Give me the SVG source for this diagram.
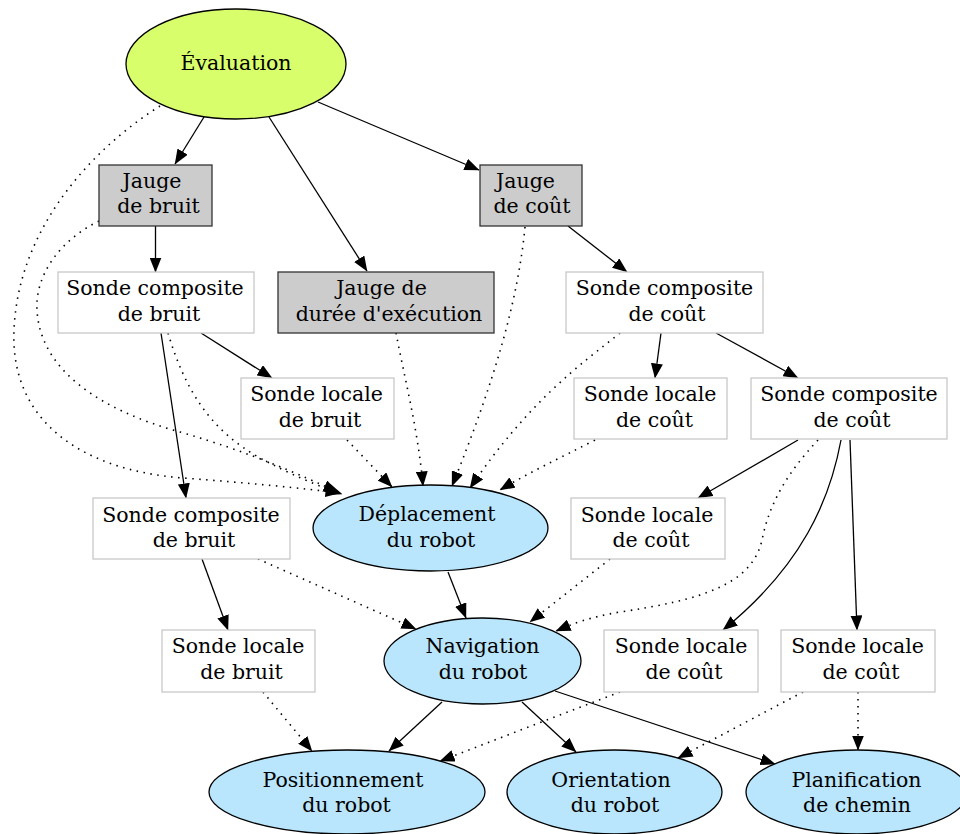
<svg xmlns="http://www.w3.org/2000/svg" width="960" height="834" viewBox="0 0 960 834">
  <style>
    text { font-family: "DejaVu Serif", "Liberation Serif", serif; font-size: 20.5px; fill: #000; text-anchor: middle; }
    .ell { stroke: #000; stroke-width: 1.3; }
    .root { fill: #d8fe6c; }
    .comp { fill: #b9e6fd; }
    .gauge { fill: #cccccc; stroke: #333; stroke-width: 1.3; }
    .probe { fill: #fff; stroke: #c8c8c8; stroke-width: 1.3; }
    .edge { fill: none; stroke: #000; stroke-width: 1.3; marker-end: url(#arrow); }
    .obs { fill: none; stroke: #000; stroke-width: 1.6; stroke-dasharray: 1.5 5.5; marker-end: url(#arrow); }
  </style>
  <defs>
    <marker id="arrow" markerUnits="userSpaceOnUse" markerWidth="15" markerHeight="12" refX="14.5" refY="6" orient="auto">
      <path d="M0,0 L15,6 L0,12 z" fill="#000"/>
    </marker>
  </defs>
  <rect width="960" height="834" fill="#fff"/>

  <g id="connectors">
    <!-- hierarchy (solid) -->
    <path class="edge" d="M204,117 L175,164"/>
    <path class="edge" d="M269,117 L367,271"/>
    <path class="edge" d="M318,102 L479,170"/>
    <path class="edge" d="M155.5,226 L155.5,272"/>
    <path class="edge" d="M568,226 L627,272"/>
    <path class="edge" d="M201,333 L272,378"/>
    <path class="edge" d="M161,333 L186,498"/>
    <path class="edge" d="M661,333 L655,378"/>
    <path class="edge" d="M716,333 L798,378"/>
    <path class="edge" d="M798,440 L698,498"/>
    <path class="edge" d="M841,440 C830,500 802,566 723,630"/>
    <path class="edge" d="M850,440 L857,630"/>
    <path class="edge" d="M448,572 L466,618"/>
    <path class="edge" d="M202,559 L228,630"/>
    <path class="edge" d="M442,702 L389,751"/>
    <path class="edge" d="M522,702 L576,752"/>
    <path class="edge" d="M555,691 L775,764"/>

    <!-- observations (dotted) -->
    <path class="obs" d="M160,106 C90,150 18,230 14,330 C10,420 80,470 183,478 C250,483 300,488 340,493"/>
    <path class="obs" d="M99,221 C60,240 35,275 37,310 C40,370 100,410 180,432 C250,452 300,475 338,492"/>
    <path class="obs" d="M168,333 C185,390 210,430 260,458 C290,474 315,485 342,494"/>
    <path class="obs" d="M347,440 L392,487"/>
    <path class="obs" d="M396,333 C405,380 418,430 423,486"/>
    <path class="obs" d="M525,227 C518,300 495,380 452,486"/>
    <path class="obs" d="M620,333 C580,365 530,400 470,488"/>
    <path class="obs" d="M595,440 C560,458 530,472 500,490"/>
    <path class="obs" d="M258,559 L416,629"/>
    <path class="obs" d="M610,559 L530,622"/>
    <path class="obs" d="M818,440 C790,470 770,500 762,540 C752,585 700,600 620,612 C590,617 572,624 556,631"/>
    <path class="obs" d="M263,692 L312,751"/>
    <path class="obs" d="M620,692 L440,761"/>
    <path class="obs" d="M803,692 L678,758"/>
    <path class="obs" d="M858,692 L858,750"/>
  </g>

  <g id="evaluation">
    <ellipse class="ell root" cx="236" cy="64" rx="110" ry="55"/>
    <text x="236" y="70">Évaluation</text>
  </g>
  <g id="jauge-bruit">
    <rect class="gauge" x="99" y="165" width="113" height="61"/>
    <text x="152" y="188">Jauge</text>
    <text x="158.5" y="213">de bruit</text>
  </g>
  <g id="jauge-duree">
    <rect class="gauge" x="278" y="272" width="216" height="61"/>
    <text x="381.5" y="295">Jauge de</text>
    <text x="389" y="321">durée d'exécution</text>
  </g>
  <g id="jauge-cout">
    <rect class="gauge" x="480" y="165" width="102" height="61"/>
    <text x="525.5" y="188">Jauge</text>
    <text x="532" y="213">de coût</text>
  </g>
  <g id="sonde-composite-bruit-1">
    <rect class="probe" x="58" y="272" width="196" height="61"/>
    <text x="155" y="295">Sonde composite</text>
    <text x="159" y="321">de bruit</text>
  </g>
  <g id="sonde-locale-bruit-1">
    <rect class="probe" x="241" y="378" width="153" height="61"/>
    <text x="316.5" y="401">Sonde locale</text>
    <text x="320" y="427">de bruit</text>
  </g>
  <g id="sonde-composite-cout-1">
    <rect class="probe" x="566" y="272" width="197" height="61"/>
    <text x="664.5" y="295">Sonde composite</text>
    <text x="667" y="321">de coût</text>
  </g>
  <g id="sonde-locale-cout-1">
    <rect class="probe" x="574" y="378" width="153" height="61"/>
    <text x="650" y="401">Sonde locale</text>
    <text x="654.5" y="427">de coût</text>
  </g>
  <g id="sonde-composite-cout-2">
    <rect class="probe" x="751" y="378" width="196" height="61"/>
    <text x="849" y="401">Sonde composite</text>
    <text x="852" y="427">de coût</text>
  </g>
  <g id="deplacement">
    <ellipse class="ell comp" cx="430.5" cy="528" rx="117.5" ry="43"/>
    <text x="427" y="520.5">Déplacement</text>
    <text x="431" y="547">du robot</text>
  </g>
  <g id="sonde-composite-bruit-2">
    <rect class="probe" x="93" y="498" width="197" height="61"/>
    <text x="191" y="522">Sonde composite</text>
    <text x="194" y="547">de bruit</text>
  </g>
  <g id="sonde-locale-cout-2">
    <rect class="probe" x="571" y="498" width="154" height="61"/>
    <text x="647" y="522">Sonde locale</text>
    <text x="651" y="547">de coût</text>
  </g>
  <g id="navigation">
    <ellipse class="ell comp" cx="482.5" cy="661" rx="98.5" ry="43"/>
    <text x="482.5" y="653">Navigation</text>
    <text x="483" y="679">du robot</text>
  </g>
  <g id="sonde-locale-bruit-2">
    <rect class="probe" x="162" y="630" width="153" height="62"/>
    <text x="238" y="653">Sonde locale</text>
    <text x="241.5" y="679">de bruit</text>
  </g>
  <g id="sonde-locale-cout-3">
    <rect class="probe" x="604" y="630" width="154" height="62"/>
    <text x="681" y="653">Sonde locale</text>
    <text x="684" y="679">de coût</text>
  </g>
  <g id="sonde-locale-cout-4">
    <rect class="probe" x="781" y="630" width="154" height="62"/>
    <text x="857.5" y="653">Sonde locale</text>
    <text x="861" y="679">de coût</text>
  </g>
  <g id="positionnement">
    <ellipse class="ell comp" cx="347" cy="792" rx="138" ry="42"/>
    <text x="343" y="787">Positionnement</text>
    <text x="346.5" y="812">du robot</text>
  </g>
  <g id="orientation">
    <ellipse class="ell comp" cx="614.5" cy="792" rx="107.5" ry="42"/>
    <text x="611" y="787">Orientation</text>
    <text x="615" y="812">du robot</text>
  </g>
  <g id="planification">
    <ellipse class="ell comp" cx="857" cy="792" rx="111" ry="42"/>
    <text x="856.5" y="787">Planification</text>
    <text x="857" y="812">de chemin</text>
  </g>
</svg>
